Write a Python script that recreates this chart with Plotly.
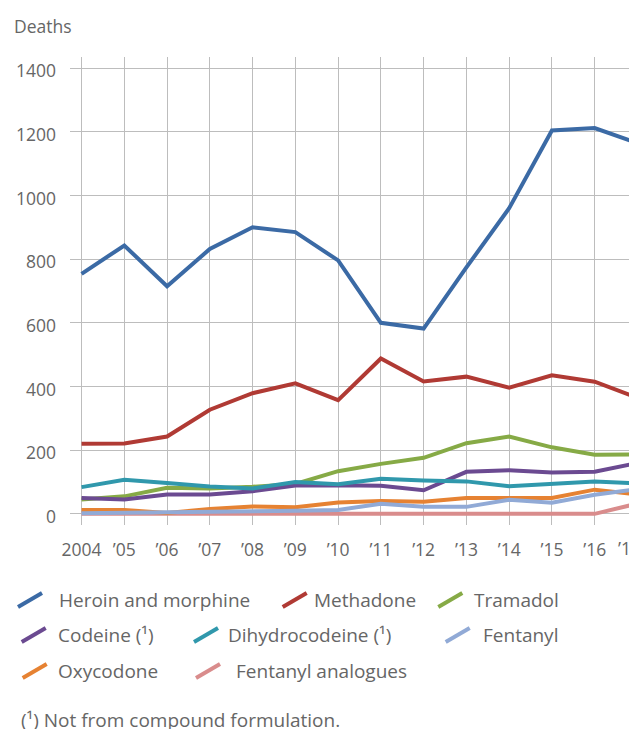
import plotly.graph_objects as go

years = list(range(2004, 2018))
year_labels = ["2004"] + ["\u2019%02d" % (y % 100) for y in years[1:]]

heroin = [754, 843, 715, 832, 900, 885, 796, 600, 582, 774, 960, 1204, 1212, 1165]
methadone = [220, 221, 243, 327, 379, 410, 357, 488, 416, 431, 396, 435, 415, 365]
tramadol = [45, 55, 82, 80, 85, 94, 134, 157, 176, 222, 243, 209, 186, 187]
codeine = [50, 45, 61, 61, 71, 89, 90, 88, 74, 132, 137, 130, 132, 160]
dihydrocodeine = [84, 107, 97, 86, 80, 100, 93, 110, 105, 102, 87, 95, 102, 96]
fentanyl = [2, 3, 4, 6, 8, 10, 12, 32, 22, 22, 44, 35, 60, 78]
oxycodone = [12, 12, 3, 15, 23, 21, 36, 40, 38, 50, 50, 50, 76, 61]
fentanyl_analogues = [0, 0, 0, 0, 0, 0, 0, 0, 0, 0, 0, 0, 0, 32]

series_names = ["Heroin and morphine", "Methadone", "Tramadol",
                "Codeine (\u00b9)", "Dihydrocodeine (\u00b9)", "Fentanyl",
                "Oxycodone", "Fentanyl analogues"]
series_values = [heroin, methadone, tramadol, codeine, dihydrocodeine,
                 fentanyl, oxycodone, fentanyl_analogues]
colors = ["#3b6aa5", "#b03a34", "#86aa46", "#6b4a91", "#3098ac",
          "#91aad6", "#e68232", "#d98c8c"]

y_ticks = [0, 200, 400, 600, 800, 1000, 1200, 1400]

FONT = "Open Sans"
GRAY = "#666666"
OFF = 8  # page body margin
W, H = 637 - OFF, 729 - OFF
ML, MR, MT, MB = 70 - OFF, 0, 57 - OFF, 204
PW, PH = W - ML - MR, H - MT - MB

def px_x(px):
    return (px - OFF - ML) / PW

def px_y(py):
    return (H - MB - (py - OFF)) / PH

fig = go.Figure()
draw_order = [7, 6, 5, 2, 3, 4, 1, 0]
for i in draw_order:
    fig.add_trace(go.Scatter(
        x=years, y=series_values[i], mode="lines", name=series_names[i],
        line=dict(color=colors[i], width=4), showlegend=False,
        hoverinfo="x+y+name"))

legend_pos = [
    (18, 57.7, 600), (282.7, 313.3, 600), (438.3, 472.7, 600),
    (21.7, 56.7, 635), (194, 226.7, 635), (445.7, 481.5, 635),
    (22.7, 56.7, 671), (196, 235, 671),
]
shapes = []
annotations = []
for i, (ix, tx, cy) in enumerate(legend_pos):
    shapes.append(dict(type="line", xref="paper", yref="paper",
                       x0=px_x(ix), y0=px_y(cy + 7), x1=px_x(ix + 24), y1=px_y(cy - 7),
                       line=dict(color=colors[i], width=4)))
    annotations.append(dict(text=series_names[i], xref="paper", yref="paper",
                            x=px_x(tx), y=px_y(cy), xanchor="left", yanchor="middle",
                            showarrow=False, borderpad=0,
                            font=dict(family=FONT, size=19, color=GRAY)))

annotations.append(dict(text="Deaths", xref="paper", yref="paper",
                        x=px_x(13), y=px_y(25.5), xanchor="left", yanchor="middle",
                        showarrow=False, borderpad=0,
                        font=dict(family=FONT, size=17.5, color=GRAY)))
annotations.append(dict(text="(\u00b9) Not from compound formulation.", xref="paper", yref="paper",
                        x=px_x(20), y=px_y(720), xanchor="left", yanchor="middle",
                        showarrow=False, borderpad=0,
                        font=dict(family=FONT, size=19, color=GRAY)))
# last year's tick label, pushed slightly inside and cut at the chart edge as in the original
annotations.append(dict(text=year_labels[-1], xref="paper", yref="paper",
                        x=px_x(617), y=px_y(548), xanchor="left", yanchor="middle",
                        showarrow=False, borderpad=0,
                        font=dict(family=FONT, size=17.5, color=GRAY)))

fig.update_layout(
    width=W, height=H,
    margin=dict(l=ML, r=MR, t=MT, b=MB, pad=0, autoexpand=False),
    paper_bgcolor="white", plot_bgcolor="white",
    font=dict(family=FONT, color=GRAY),
    shapes=shapes, annotations=annotations,
    showlegend=False,
)
fig.update_xaxes(range=[2003.73, 2016.99], tickvals=years[:-1], ticktext=year_labels[:-1],
                 showgrid=True, gridcolor="#bdbdbd", gridwidth=1, zeroline=False,
                 showline=False, ticks="", ticklabelstandoff=12, automargin=False,
                 tickfont=dict(family=FONT, size=17.5, color=GRAY))
fig.update_yaxes(range=[-35, 1435], tickvals=y_ticks,
                 showgrid=True, gridcolor="#bdbdbd", gridwidth=1, zeroline=False,
                 showline=False, ticks="", ticklabelstandoff=13, ticklabelshift=3,
                 automargin=False,
                 tickfont=dict(family=FONT, size=17.5, color=GRAY))

fig.write_html("out.html")
